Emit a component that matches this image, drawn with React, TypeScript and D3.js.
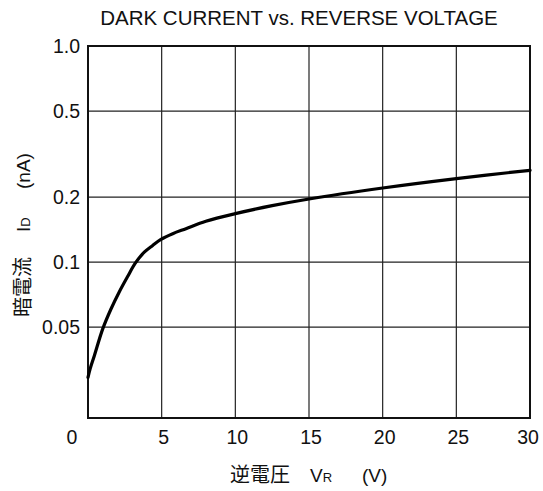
import React from "react";
import * as d3 from "d3";

const voltage = [0, 0.14, 0.43, 1.0, 1.56, 2.12, 2.69, 3.21, 3.82, 4.39, 4.95, 5.75, 6.65, 8, 10, 12.5, 15, 20, 25, 30];
const darkCurrent = [0.0293, 0.032, 0.0369, 0.0491, 0.0607, 0.0728, 0.0858, 0.0989, 0.1112, 0.1195, 0.1274, 0.1354, 0.1428, 0.1545, 0.1676, 0.1825, 0.196, 0.2203, 0.2435, 0.266];
const xTicks = [0, 5, 10, 15, 20, 25, 30];
const yTicks = [1.0, 0.5, 0.2, 0.1, 0.05];
const yTickLabels = ["1.0", "0.5", "0.2", "0.1", "0.05"];

const W = 543;
const H = 491;
const left = 88;
const right = 530;
const top = 46;
const bottom = 418;

const FONT = "'Liberation Sans', Arial, 'Noto Sans CJK JP', sans-serif";
const CJK = "'Noto Sans CJK JP', 'Liberation Sans', sans-serif";

export default function App() {
  const x = d3.scaleLinear().domain([0, 30]).range([left, right]);
  const y = d3.scaleLog().domain([0.019, 1]).range([bottom, top]);
  const pts: [number, number][] = voltage.map((v, i) => [v, darkCurrent[i]]);
  const line = d3
    .line<[number, number]>()
    .x((d) => x(d[0]))
    .y((d) => y(d[1]))
    .curve(d3.curveCatmullRom.alpha(0.5));

  return (
    <svg
      width={W}
      height={H}
      style={{ position: "absolute", left: 0, top: 0, background: "#fff" }}
    >
      <rect x={0} y={0} width={W} height={H} fill="#fff" />
      <text x={299} y={25} textAnchor="middle" fontFamily={FONT} fontSize={20.5} fill="#111">
        DARK CURRENT vs. REVERSE VOLTAGE
      </text>
      {xTicks.slice(1, -1).map((t) => (
        <line key={"vx" + t} x1={x(t)} x2={x(t)} y1={top} y2={bottom} stroke="#222" strokeWidth={1.2} />
      ))}
      {yTicks.slice(1).map((t) => (
        <line key={"hy" + t} x1={left} x2={right} y1={y(t)} y2={y(t)} stroke="#222" strokeWidth={1.2} />
      ))}
      <rect x={left} y={top} width={right - left} height={bottom - top} fill="none" stroke="#111" strokeWidth={2} />
      <path d={line(pts) || ""} fill="none" stroke="#000" strokeWidth={3.2} strokeLinecap="round" strokeLinejoin="round" />
      {yTicks.map((t, i) => (
        <text key={"yl" + t} x={80} y={y(t) + 7} textAnchor="end" fontFamily={FONT} fontSize={19.5} fill="#111">
          {yTickLabels[i]}
        </text>
      ))}
      {xTicks.map((t) => (
        <text
          key={"xl" + t}
          x={t === 0 ? x(t) - 16 : t === 30 ? x(t) - 2 : x(t) + 2}
          y={444}
          textAnchor="middle"
          fontFamily={FONT}
          fontSize={19.5}
          fill="#111"
        >
          {t}
        </text>
      ))}
      <text x={230} y={482} fontFamily={CJK} fontSize={20} fill="#111">
        逆電圧
      </text>
      <text x={310} y={482} fontFamily={FONT} fontSize={19} fill="#111">
        V<tspan fontSize={13}>R</tspan>
      </text>
      <text x={362} y={482} fontFamily={FONT} fontSize={19} fill="#111">
        (V)
      </text>
      <g transform="translate(30,317) rotate(-90)">
        <text x={0} y={0} fontFamily={CJK} fontSize={20} fill="#111">
          暗電流
        </text>
        <text x={85} y={0} fontFamily={FONT} fontSize={19} fill="#111">
          I<tspan fontSize={13}>D</tspan>
        </text>
        <text x={128} y={0} fontFamily={FONT} fontSize={19} fill="#111">
          (nA)
        </text>
      </g>
    </svg>
  );
}
